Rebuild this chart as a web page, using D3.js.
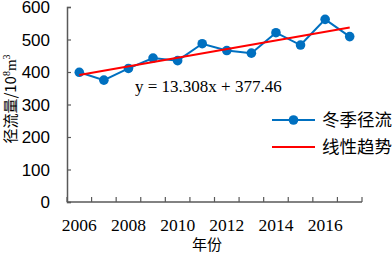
<!DOCTYPE html>
<html>
<head>
<meta charset="utf-8">
<script src="https://cdn.jsdelivr.net/npm/d3@7"></script>
<style>
  body { margin: 0; background: #fff; }
</style>
</head>
<body>
<svg id="chart"></svg>
<script>
const years = [2006, 2007, 2008, 2009, 2010, 2011, 2012, 2013, 2014, 2015, 2016, 2017];
const runoff = [399, 375, 411, 443, 435, 487, 466, 458, 521, 483, 562, 509];
const yTicks = [0, 100, 200, 300, 400, 500, 600];
const xLabels = [2006, 2008, 2010, 2012, 2014, 2016];
const trendSlope = 13.308;
const trendIntercept = 377.46;
const seriesNames = ["冬季径流", "线性趋势"];

const width = 392;
const height = 255;
const blue = "#0070C0";
const red = "#FF0000";
const axisColor = "#595959";

const svg = d3.select("#chart")
  .attr("width", width)
  .attr("height", height);

const x = d3.scaleBand()
  .domain(years)
  .range([67, 362]);

const y = d3.scaleLinear()
  .domain([0, 600])
  .range([202, 7]);

// y axis
const yAxis = svg.append("g")
  .attr("transform", "translate(67,0)")
  .call(d3.axisRight(y).tickValues(yTicks).tickSize(4).tickFormat(""));
yAxis.select(".domain").attr("stroke", axisColor).attr("stroke-width", 1.5);
yAxis.selectAll(".tick line").attr("stroke", axisColor).attr("stroke-width", 1.2);

svg.selectAll(".ylab")
  .data(yTicks)
  .enter().append("text")
  .attr("class", "ylab")
  .attr("x", 50)
  .attr("y", d => y(d))
  .attr("dy", "0.36em")
  .attr("text-anchor", "end")
  .attr("font-family", "Liberation Sans, Arial, sans-serif")
  .attr("font-size", 17)
  .attr("fill", "#000")
  .text(d => d);

// x axis
const bw = x.bandwidth();
svg.append("line")
  .attr("x1", 67).attr("x2", 362)
  .attr("y1", y(0)).attr("y2", y(0))
  .attr("stroke", axisColor)
  .attr("stroke-width", 1.5);

svg.selectAll(".xtick")
  .data(years.concat([years[years.length - 1] + 1]))
  .enter().append("line")
  .attr("class", "xtick")
  .attr("x1", (d, i) => 67 + i * bw)
  .attr("x2", (d, i) => 67 + i * bw)
  .attr("y1", y(0))
  .attr("y2", y(0) - 5)
  .attr("stroke", axisColor)
  .attr("stroke-width", 1.2);

svg.selectAll(".xlab")
  .data(xLabels)
  .enter().append("text")
  .attr("class", "xlab")
  .attr("x", d => x(d) + bw / 2)
  .attr("y", 231)
  .attr("text-anchor", "middle")
  .attr("font-family", "Liberation Serif, Times New Roman, serif")
  .attr("font-size", 17.5)
  .attr("fill", "#000")
  .text(d => d);

// axis titles
svg.append("text")
  .attr("x", 207)
  .attr("y", 250)
  .attr("text-anchor", "middle")
  .attr("font-family", "Noto Sans CJK SC, sans-serif")
  .attr("font-size", 15)
  .attr("fill", "#000")
  .text("年份");

const yTitle = svg.append("text")
  .attr("transform", "translate(16,99) rotate(-90)")
  .attr("text-anchor", "middle")
  .attr("font-family", "Noto Sans CJK SC, sans-serif")
  .attr("font-size", 15)
  .attr("fill", "#000");
yTitle.append("tspan").text("径流量/10");
yTitle.append("tspan").attr("font-family", "Liberation Serif, serif").attr("font-size", 10).attr("dy", -6).text("8");
yTitle.append("tspan").attr("font-family", "Liberation Serif, serif").attr("dy", 6).text("m");
yTitle.append("tspan").attr("font-family", "Liberation Serif, serif").attr("font-size", 10).attr("dy", -6).text("3");

// series line
const line = d3.line()
  .x((d, i) => x(years[i]) + bw / 2)
  .y(d => y(d));

svg.append("path")
  .datum(runoff)
  .attr("d", line)
  .attr("fill", "none")
  .attr("stroke", blue)
  .attr("stroke-width", 2);

svg.selectAll(".pt")
  .data(runoff)
  .enter().append("circle")
  .attr("class", "pt")
  .attr("cx", (d, i) => x(years[i]) + bw / 2)
  .attr("cy", d => y(d))
  .attr("r", 4.8)
  .attr("fill", blue);

// trend line
const n = years.length;
const trendPts = [1, n].map(k => [x(years[k - 1]) + bw / 2, y(trendIntercept + trendSlope * k)]);
svg.append("line")
  .attr("x1", trendPts[0][0]).attr("y1", trendPts[0][1])
  .attr("x2", trendPts[1][0]).attr("y2", trendPts[1][1])
  .attr("stroke", red)
  .attr("stroke-width", 2);

// equation
svg.append("text")
  .attr("x", 135)
  .attr("y", 92)
  .attr("font-family", "Liberation Serif, Times New Roman, serif")
  .attr("font-size", 17)
  .attr("fill", "#000")
  .text(`y = ${trendSlope}x + ${trendIntercept}`);

// legend
const legend = svg.append("g");
const rows = [120, 147];
legend.selectAll(".lline")
  .data(seriesNames)
  .enter().append("line")
  .attr("x1", 272).attr("x2", 315)
  .attr("y1", (d, i) => rows[i]).attr("y2", (d, i) => rows[i])
  .attr("stroke", (d, i) => i === 0 ? blue : red)
  .attr("stroke-width", 2);
legend.append("circle")
  .attr("cx", 293.5).attr("cy", rows[0])
  .attr("r", 4.8)
  .attr("fill", blue);
legend.selectAll(".ltext")
  .data(seriesNames)
  .enter().append("text")
  .attr("x", 322)
  .attr("y", (d, i) => rows[i])
  .attr("dy", "0.36em")
  .attr("font-family", "Noto Sans CJK SC, sans-serif")
  .attr("font-size", 17.5)
  .attr("fill", "#000")
  .text(d => d);
</script>
</body>
</html>
